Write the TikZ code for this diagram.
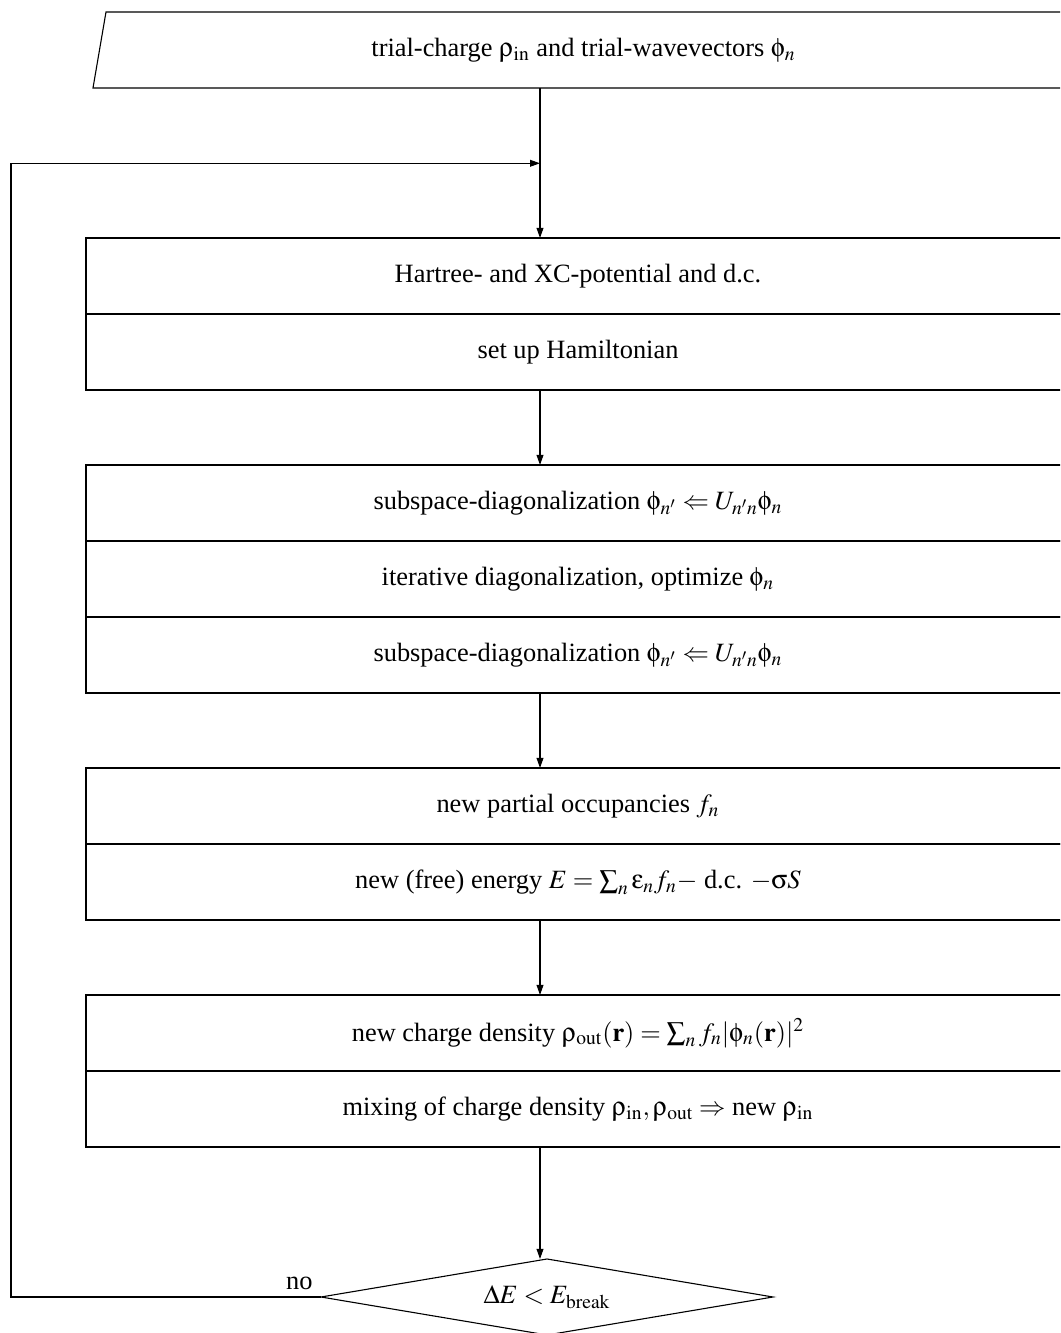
\documentclass[tikz,border=0pt]{standalone}
\usepackage{mathptmx}
\usepackage[Symbol]{upgreek}
\usepackage[no-math]{fontspec}
\setmainfont{Liberation Serif}
\usetikzlibrary{positioning,shapes.geometric,arrows.meta}

\tikzset{
  stepbox/.style={draw, minimum width=492pt, minimum height=38pt, inner sep=0pt, outer sep=0pt},
  testbox/.style={draw, diamond, aspect=6, minimum width=226pt, minimum height=38pt, inner sep=0pt, outer sep=0pt},
  flow/.style={-{Triangle[length=5pt,width=3.4pt]}},
}

\begin{document}
\begin{tikzpicture}[x=0.5pt,y=0.5pt,line width=0.55pt,font=\fontsize{13.2}{16}\selectfont]
\clip (0,0) rectangle (1060,1333);

%input
\node[minimum width=484pt, minimum height=38pt, inner sep=0pt, outer sep=0pt] (input) at (583.5,1283) {trial-charge $\uprho_{\mathrm{in}}$ and trial-wavevectors $\upphi_n$};
\draw ([xshift=3.25pt]input.north west) -- ([xshift=3.25pt]input.north east) -- ([xshift=-3.25pt]input.south east) -- ([xshift=-3.25pt]input.south west) -- cycle;

%potential and hamiltonian
\node[stepbox] (hartree) at (578,1057) {Hartree- and XC-potential and d.c.};
\node[stepbox, below=0pt of hartree] (hamilton) {set up Hamiltonian};

%diagonalization
\node[stepbox, below=37.5pt of hamilton] (subdiagA) {subspace-diagonalization $\upphi_{n'} \Leftarrow U_{n'n}\upphi_n$};
\node[stepbox, below=0pt of subdiagA] (iterdiag) {iterative diagonalization, optimize $\upphi_n$};
\node[stepbox, below=0pt of iterdiag] (subdiagB) {subspace-diagonalization $\upphi_{n'} \Leftarrow U_{n'n}\upphi_n$};

%occupancies and energy
\node[stepbox, below=37.5pt of subdiagB] (occup) {new partial occupancies $f_n$};
\node[stepbox, below=0pt of occup] (energy) {new (free) energy $E=\sum_n \upepsilon_n f_n -$ d.c. $-\upsigma S$};

%charge density
\node[stepbox, below=37.5pt of energy] (density) {new charge density $\uprho_{\mathrm{out}}(\mathbf{r}) = \sum_n f_n |\upphi_n(\mathbf{r})|^2$};
\node[stepbox, below=0pt of density] (mixing) {mixing of charge density $\uprho_{\mathrm{in}},\uprho_{\mathrm{out}} \Rightarrow$ new $\uprho_{\mathrm{in}}$};

%break test
\node[testbox] (test) at (547,36) {$\Delta E < E_{\mathrm{break}}$};
\node[above left=3.5pt and 4pt of test.west, inner sep=0pt] (no) {no};

%connectors
\coordinate (spine) at (540,0);
\coordinate (merge) at (540,1169.7);
\coordinate (loopcorner) at (11,36);
\draw[flow] (input.south -| spine) -- (hartree.north -| spine);
\draw[flow] (hamilton.south -| spine) -- (subdiagA.north -| spine);
\draw[flow] (subdiagB.south -| spine) -- (occup.north -| spine);
\draw[flow] (energy.south -| spine) -- (density.north -| spine);
\draw[flow] (mixing.south -| spine) -- (test.north -| spine);
\draw[flow] (test.west) -- (loopcorner) |- (merge);

\end{tikzpicture}
\end{document}
